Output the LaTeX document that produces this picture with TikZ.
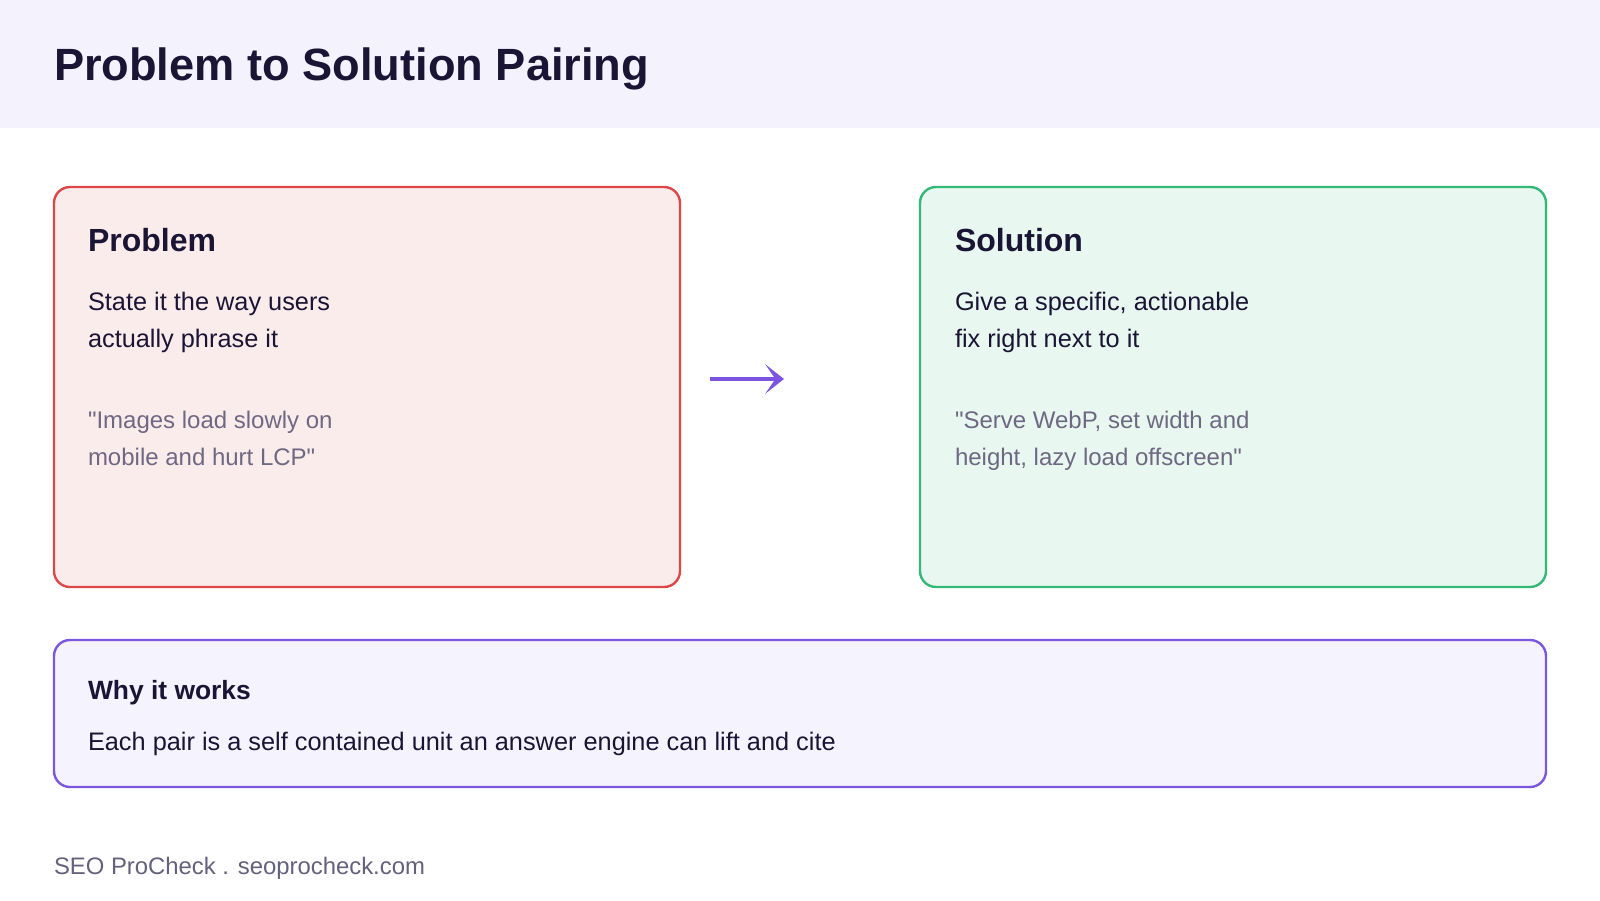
\documentclass[tikz,border=0pt]{standalone}
\usepackage{fontspec}
\setmainfont{Liberation Sans}
\usetikzlibrary{arrows.meta}
\definecolor{bandbg}{HTML}{F4F2FC}
\definecolor{ink}{HTML}{1B1535}
\definecolor{quote}{HTML}{6E6882}
\definecolor{foot}{HTML}{64617C}
\definecolor{probfill}{HTML}{FBECEC}
\definecolor{probline}{HTML}{DC4747}
\definecolor{solfill}{HTML}{E8F7EF}
\definecolor{solline}{HTML}{33B877}
\definecolor{whyfill}{HTML}{F5F3FD}
\definecolor{whyline}{HTML}{7B57E0}
\definecolor{arrowc}{HTML}{7B55E0}
\tikzset{
  cardbox/.style={draw, line width=1.8pt, rounded corners=12pt, inner sep=0pt, outer sep=0pt},
  probbox/.style={cardbox, draw=probline, fill=probfill, minimum width=469.5pt, minimum height=300pt},
  solbox/.style={cardbox, draw=solline, fill=solfill, minimum width=469.5pt, minimum height=300pt},
  whybox/.style={cardbox, draw=whyline, fill=whyfill, minimum width=1119pt, minimum height=110.25pt},
  txt/.style={anchor=base west, inner sep=0pt, outer sep=0pt, text=ink},
  titletxt/.style={txt, font=\fontsize{33.9pt}{40pt}\selectfont\bfseries},
  headtxt/.style={txt, font=\fontsize{24pt}{28pt}\selectfont\bfseries},
  whyhead/.style={txt, font=\fontsize{19.8pt}{24pt}\selectfont\bfseries},
  bodytxt/.style={txt, font=\fontsize{19pt}{22pt}\selectfont},
  quotetxt/.style={txt, text=quote, font=\fontsize{18pt}{22pt}\selectfont},
  foottxt/.style={txt, text=foot, font=\fontsize{17.9pt}{22pt}\selectfont},
  flowarrow/.style={draw=arrowc, line width=3pt, -{Stealth[length=14pt, width=22pt, inset=7.5pt]}}
}
\begin{document}
\begin{tikzpicture}[x=0.75pt, y=-0.75pt]
\useasboundingbox (0,0) rectangle (1600,900);
\fill[white] (0,0) rectangle (1600,900);
\fill[bandbg] (0,0) rectangle (1600,128);
\node[titletxt] (title) at (54,80) {Problem to Solution Pairing};

\node[probbox] (prob) at (367,387) {};
\node[solbox] (sol) at (1233,387) {};

\node[headtxt] (probhead) at (88,251) {Problem};
\node[bodytxt] (probl1) at (88,310) {State it the way users};
\node[bodytxt] (probl2) at (88,347) {actually phrase it};
\node[quotetxt] (probq1) at (88,428) {\textquotedbl Images load slowly on};
\node[quotetxt] (probq2) at (88,465) {mobile and hurt LCP\textquotedbl};

\node[headtxt] (solhead) at (955,251) {Solution};
\node[bodytxt] (soll1) at (955,310) {Give a specific, actionable};
\node[bodytxt] (soll2) at (955,347) {fix right next to it};
\node[quotetxt] (solq1) at (955,428) {\textquotedbl Serve WebP, set width and};
\node[quotetxt] (solq2) at (955,465) {height, lazy load offscreen\textquotedbl};

\coordinate (arrstart) at (710,379);
\coordinate (arrend) at (784,379);
\draw[flowarrow] (arrstart) -- (arrend);

\node[whybox] (why) at (800,713.5) {};
\node[whyhead] (whyt) at (88,699) {Why it works};
\node[bodytxt] (whyb) at (88,750) {Each pair is a self contained unit an answer engine can lift and cite};

\node[foottxt] (footer) at (54,874) {SEO ProCheck . seoprocheck.com};
\end{tikzpicture}
\end{document}
